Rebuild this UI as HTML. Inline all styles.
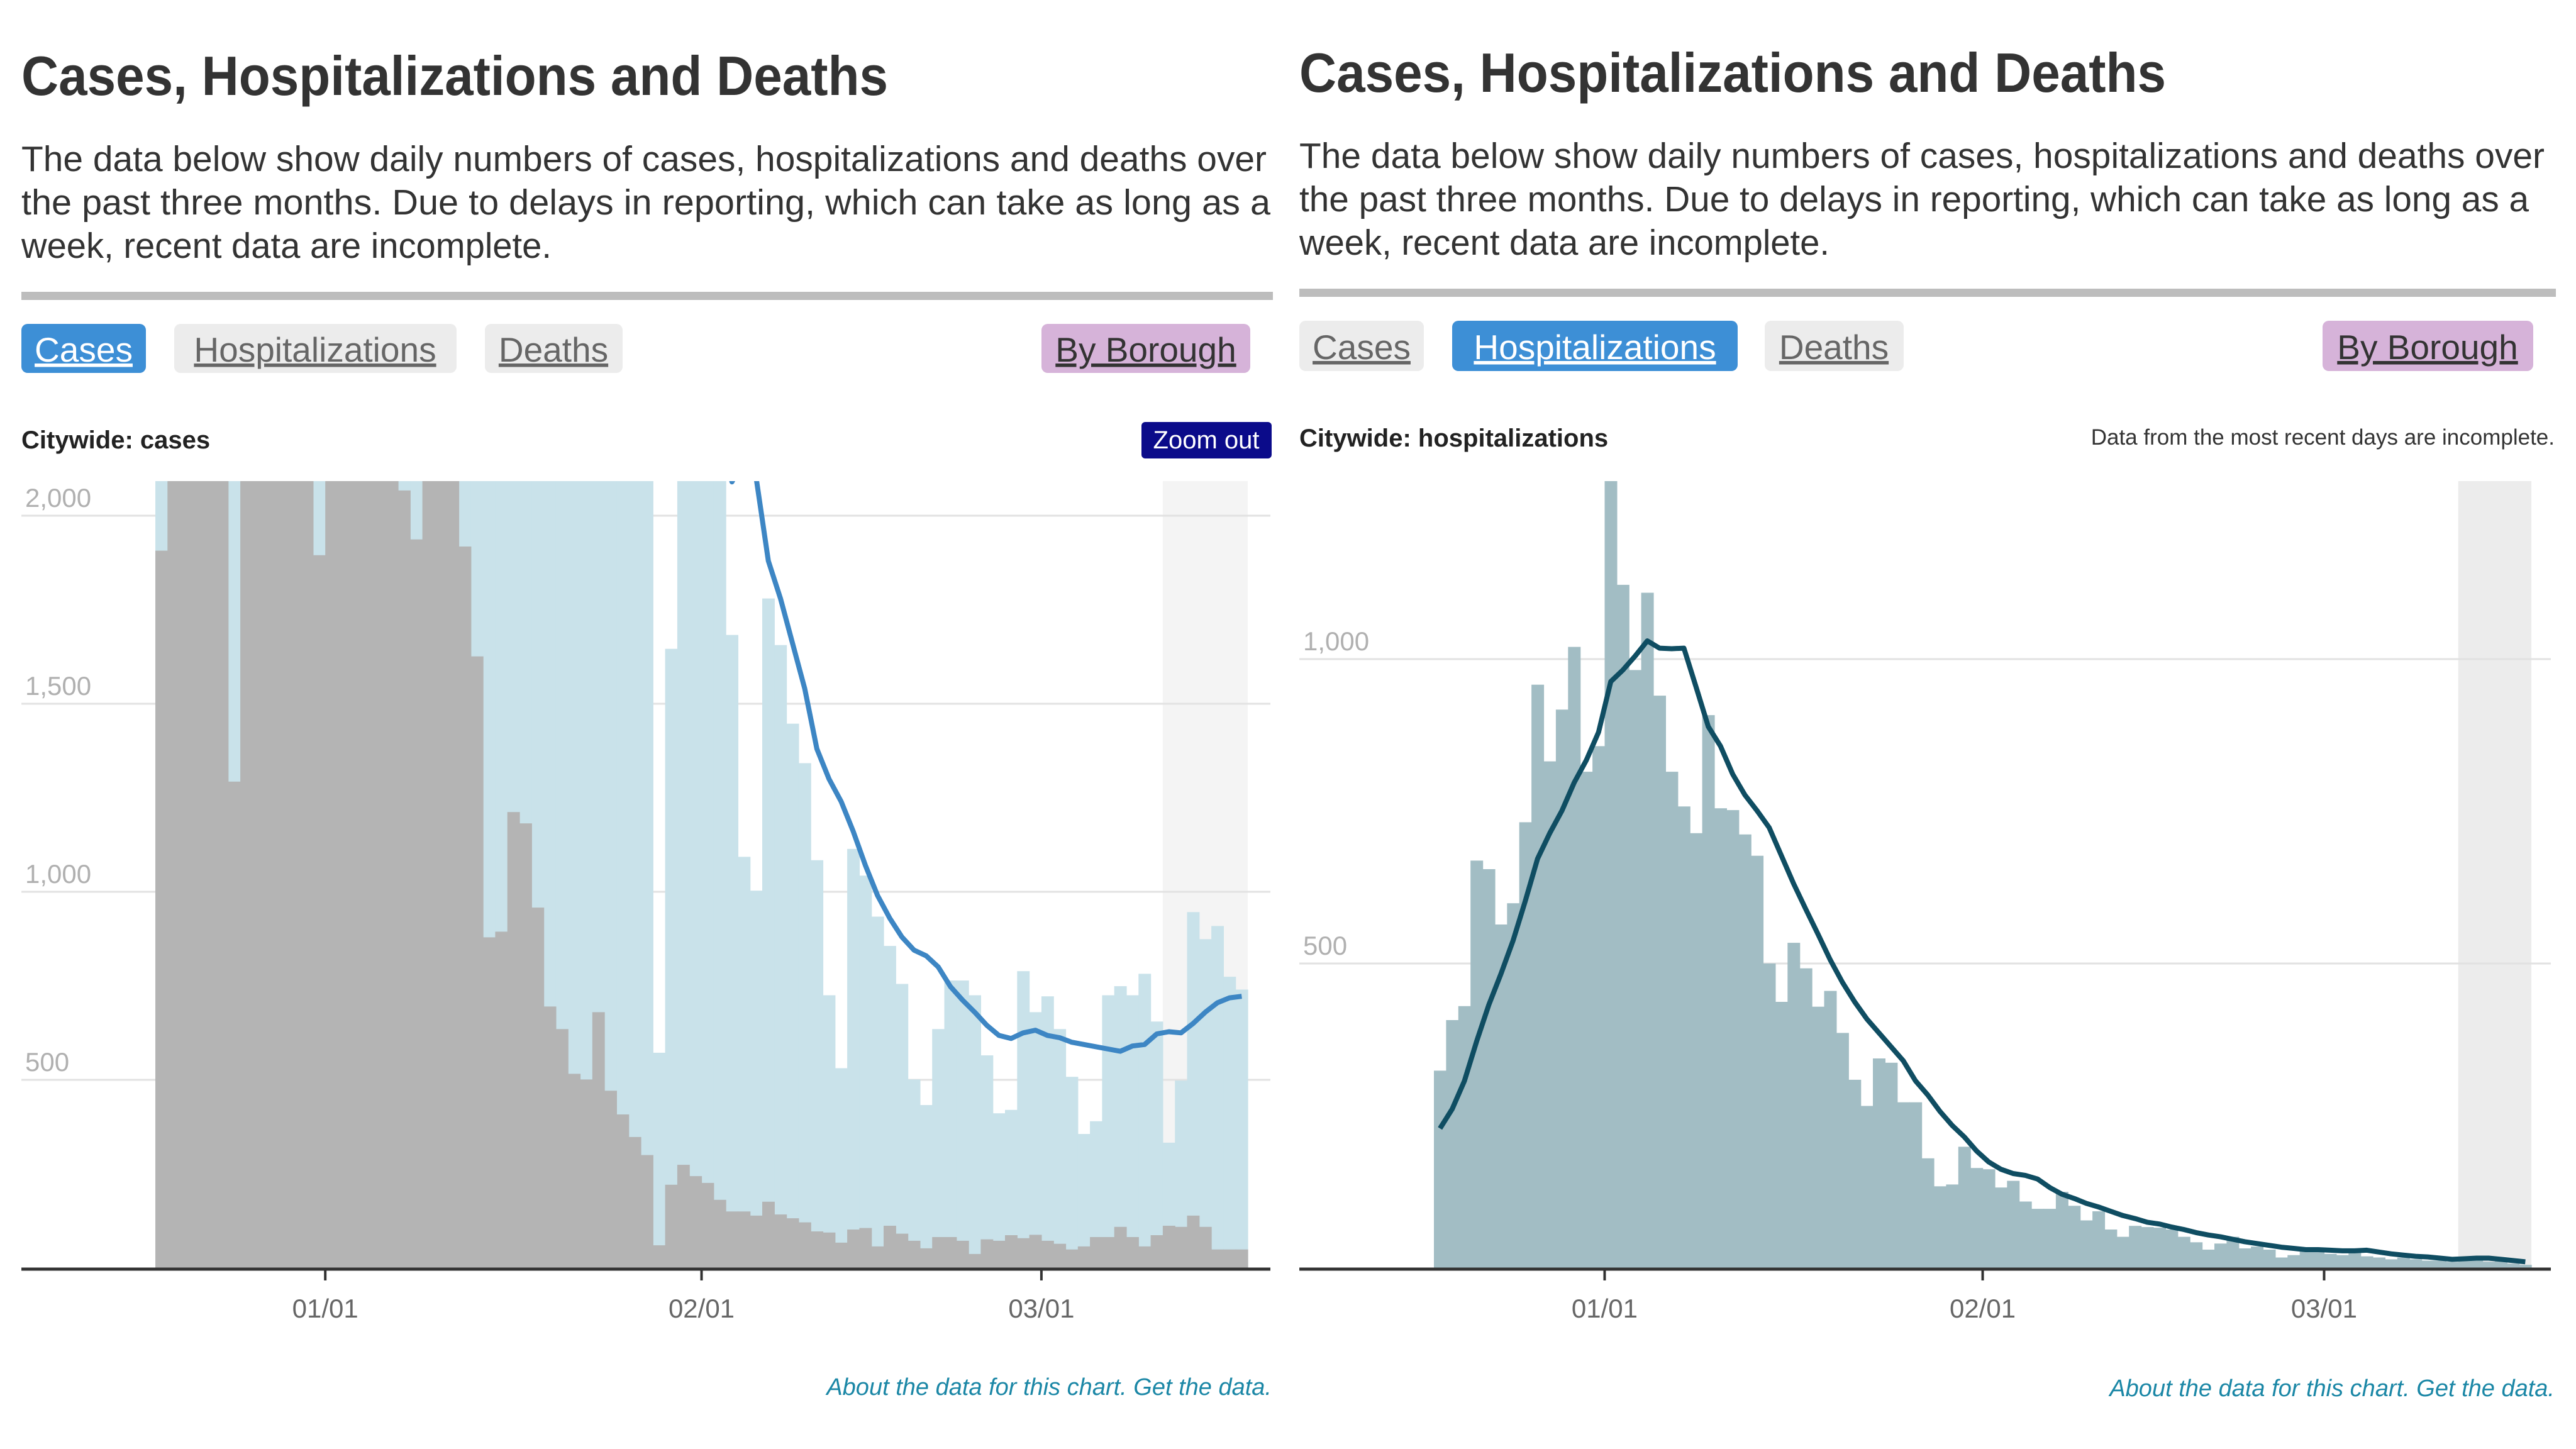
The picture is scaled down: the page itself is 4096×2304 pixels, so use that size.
<!DOCTYPE html>
<html><head><meta charset="utf-8"><style>
html,body{margin:0;padding:0;background:#fff;width:4096px;height:2304px;overflow:hidden}
svg{display:block;font-family:"Liberation Sans",sans-serif}
</style></head><body>
<svg id="page" width="4096" height="2304" viewBox="0 0 4096 2304" xmlns="http://www.w3.org/2000/svg">
<defs>
<clipPath id="clipL"><rect x="30" y="765" width="2000" height="1260"/></clipPath>
<clipPath id="clipR"><rect x="2060" y="765" width="2000" height="1260"/></clipPath>
</defs>
<g>
<text x="34" y="151" font-size="88" font-weight="bold" fill="#333" textLength="1378" lengthAdjust="spacingAndGlyphs">Cases, Hospitalizations and Deaths</text>
<g font-size="57" fill="#333">
<text x="34" y="272" textLength="1980" lengthAdjust="spacingAndGlyphs">The data below show daily numbers of cases, hospitalizations and deaths over</text>
<text x="34" y="341" textLength="1986" lengthAdjust="spacingAndGlyphs">the past three months. Due to delays in reporting, which can take as long as a</text>
<text x="34" y="410" textLength="843" lengthAdjust="spacingAndGlyphs">week, recent data are incomplete.</text>
</g>
<rect x="34" y="464" width="1990" height="13" fill="#bdbdbd"/>
<g><rect x="34" y="515" width="198" height="78" rx="10" fill="#3d8fd6"/><text x="133" y="575" font-size="55" fill="#fff" text-anchor="middle" text-decoration="underline">Cases</text></g>
<g><rect x="277" y="515" width="449" height="78" rx="10" fill="#ececec"/><text x="501" y="575" font-size="55" fill="#666" text-anchor="middle" text-decoration="underline">Hospitalizations</text></g>
<g><rect x="771" y="515" width="219" height="78" rx="10" fill="#ececec"/><text x="880" y="575" font-size="55" fill="#666" text-anchor="middle" text-decoration="underline">Deaths</text></g>
<g><rect x="1656" y="515" width="332" height="78" rx="10" fill="#d6b3d9"/><text x="1822" y="575" font-size="55" fill="#333" text-anchor="middle" text-decoration="underline">By Borough</text></g>
<text x="34" y="713" font-size="40" font-weight="bold" fill="#222">Citywide: cases</text>
<g><rect x="1815" y="671" width="207" height="58" rx="6" fill="#0b0b8a"/><text x="1918" y="713" font-size="40" fill="#fff" text-anchor="middle">Zoom out</text></g>
<g id="chartL"></g>
<text x="2022" y="2218" font-size="38" font-style="italic" fill="#1b87a6" text-anchor="end">About the data for this chart. Get the data.</text>
</g>
<g>
<text x="2066" y="146" font-size="88" font-weight="bold" fill="#333" textLength="1378" lengthAdjust="spacingAndGlyphs">Cases, Hospitalizations and Deaths</text>
<g font-size="57" fill="#333">
<text x="2066" y="267" textLength="1980" lengthAdjust="spacingAndGlyphs">The data below show daily numbers of cases, hospitalizations and deaths over</text>
<text x="2066" y="336" textLength="1955" lengthAdjust="spacingAndGlyphs">the past three months. Due to delays in reporting, which can take as long as a</text>
<text x="2066" y="405" textLength="843" lengthAdjust="spacingAndGlyphs">week, recent data are incomplete.</text>
</g>
<rect x="2066" y="459" width="1998" height="13" fill="#bdbdbd"/>
<g><rect x="2066" y="510" width="198" height="80" rx="10" fill="#ececec"/><text x="2165" y="571" font-size="55" fill="#666" text-anchor="middle" text-decoration="underline">Cases</text></g>
<g><rect x="2309" y="510" width="454" height="80" rx="10" fill="#3d8fd6"/><text x="2536" y="571" font-size="55" fill="#fff" text-anchor="middle" text-decoration="underline">Hospitalizations</text></g>
<g><rect x="2806" y="510" width="221" height="80" rx="10" fill="#ececec"/><text x="2916" y="571" font-size="55" fill="#666" text-anchor="middle" text-decoration="underline">Deaths</text></g>
<g><rect x="3693" y="510" width="335" height="80" rx="10" fill="#d6b3d9"/><text x="3860" y="571" font-size="55" fill="#333" text-anchor="middle" text-decoration="underline">By Borough</text></g>
<text x="2066" y="710" font-size="40" font-weight="bold" fill="#222">Citywide: hospitalizations</text>
<text x="4062" y="707" font-size="35" fill="#333" text-anchor="end">Data from the most recent days are incomplete.</text>
<g id="chartR"></g>
<text x="4062" y="2220" font-size="38" font-style="italic" fill="#1b87a6" text-anchor="end">About the data for this chart. Get the data.</text>
</g>
</svg>
<script>
// ---- data (day index 0 = Dec 18) ----
const casesTotal = [2300,2300,2300,2300,2300,2300,2300,2300,2300,2300,2300,2300,2300,2300,2300,2300,2300,2300,2300,2300,2300,2300,2300,2300,2300,2300,2300,2300,2300,2300,2300,2300,2300,2300,2300,2300,2300,2300,2300,2300,2300,572,1646,2300,2300,2300,2300,1683,1093,1003,1780,1656,1447,1342,1084,725,531,1114,1043,934,856,755,501,433,635,764,764,725,565,411,420,789,680,722,635,508,356,390,725,749,725,782,655,333,498,946,874,909,774,740];
const casesPrior = [1907,2300,2300,2300,2300,2300,1293,2300,2300,2300,2300,2300,2300,1895,2300,2300,2300,2300,2300,2300,2067,1937,2300,2300,2300,1918,1626,879,894,1212,1182,958,695,635,516,501,680,471,408,348,300,60,221,274,244,226,181,150,150,139,176,142,132,121,97,94,67,102,106,57,112,91,72,52,82,82,72,37,76,72,87,79,88,72,64,49,57,82,82,109,82,57,87,112,109,139,109,49,49,49];
const casesAvg = [2500,2500,2500,2500,2500,2500,2500,2500,2500,2500,2500,2500,2500,2500,2500,2500,2500,2500,2500,2500,2500,2500,2500,2500,2500,2500,2500,2500,2500,2500,2500,2500,2500,2500,2500,2500,2500,2500,2500,2500,2500,2500,2500,2500,2500,2500,2300,2090,2150,2100,1880,1780,1660,1540,1380,1300,1240,1160,1070,990,930,880,845,830,800,748,712,680,645,618,610,625,632,618,612,600,594,588,582,576,590,594,622,628,625,650,680,705,718,722];
const hospValues = [324,407,430,669,655,564,599,732,958,832,917,1020,815,857,1294,1122,982,1109,940,815,758,714,908,755,752,712,677,500,437,534,492,429,455,386,309,266,344,337,272,272,180,134,137,199,164,162,132,143,109,97,97,125,102,78,93,63,51,69,67,66,63,51,42,30,40,51,32,35,30,17,21,30,26,23,21,26,19,17,14,17,14,12,12,10,12,14,10,12,7,5];
const hospAvg = [229,261,307,372,432,483,538,603,672,714,751,797,834,880,963,982,1005,1030,1018,1017,1018,954,889,857,811,777,751,723,677,631,589,548,506,469,437,409,386,363,340,307,284,257,234,215,192,174,162,155,152,146,132,121,114,106,100,93,86,81,75,72,67,63,58,54,51,47,43,40,37,34,32,30,30,29,28,28,29,26,23,21,19,18,16,14,15,16,16,14,12,10];
const casesTicks = [2000,1500,1000,500];
const hospTicks = [1000,500];
const dateTicks = ["01/01","02/01","03/01"];
const dateTickOffsets = [14,45,73];
const incompleteStartCases = 83;
const incompleteStartHosp = 84;

const NS = "http://www.w3.org/2000/svg";
function mk(tag, attrs, parent){ const e=document.createElementNS(NS,tag); for(const k in attrs) e.setAttribute(k,attrs[k]); parent.appendChild(e); return e; }
function pathFrom(vals, x, y){ let d=""; vals.forEach((v,i)=>{ d += (i?"L":"M")+x(i).toFixed(1)+","+y(v).toFixed(1); }); return d; }

function drawChart(g, o){
  const y0 = o.y(0);
  const sh = mk("rect",{x:o.xl(o.inc),y:765,width:o.xl(o.n)-o.xl(o.inc),height:y0-765,fill:o.shade},g);
  
  
  o.ticks.forEach(t=>{
    const gl = mk("line",{x1:o.x0,x2:o.x1,y1:o.y(t),y2:o.y(t),stroke:"#e2e2e2","stroke-width":3},g);
    
    
  });
  const bars = mk("g",{"clip-path":o.clip},g);
  
  
  o.series.forEach(s=>{
    s.vals.forEach((v,i)=>{
      const r = mk("rect",{x:o.xl(i).toFixed(1),y:o.y(v).toFixed(1),width:(o.xl(i+1)-o.xl(i)+0.6).toFixed(1),height:(y0-o.y(v)).toFixed(1),fill:s.color},bars);
      
      
    });
  });
  const ln = mk("path",{d:pathFrom(o.avg,i=>o.xl(i)+o.dw/2,o.y),fill:"none",stroke:o.lineColor,"stroke-width":8,"stroke-linejoin":"round","clip-path":o.clip},g);
  
  
  o.ticks.forEach(t=>{
    const tx = mk("text",{x:o.x0+6,y:o.y(t)-14,"font-size":42,fill:"#b0b0b0"},g);
    tx.textContent = t.toLocaleString("en-US");
    
    
  });
  const ax = mk("line",{x1:o.x0,x2:o.x1,y1:y0+2,y2:y0+2,stroke:"#333","stroke-width":5},g);
  
  
  dateTicks.forEach((lab,k)=>{
    const xx = o.xl(dateTickOffsets[k]);
    const tk = mk("line",{x1:xx,x2:xx,y1:y0+2,y2:y0+20,stroke:"#333","stroke-width":4},g);
    
    
    const tl = mk("text",{x:xx,y:y0+79,"font-size":42,fill:"#666","text-anchor":"middle"},g);
    tl.textContent = lab;
    
    
  });
}

const dwL = 19.3, dwR = 19.39;
drawChart(document.getElementById("chartL"),{
  n:casesTotal.length, dw:dwL, x0:34, x1:2020, clip:"url(#clipL)", shade:"#f4f4f4", inc:incompleteStartCases,
  xl:i=>247+i*dwL, y:v=>2016-v*0.598, ticks:casesTicks, lineColor:"#3d86c4",
  series:[{name:'cases-total',vals:casesTotal,color:"#c9e2ea"},{name:'cases-prior',vals:casesPrior,color:"#b4b4b4"}],
  avg:casesAvg
});
drawChart(document.getElementById("chartR"),{
  n:hospValues.length, dw:dwR, x0:2066, x1:4056, clip:"url(#clipR)", shade:"#ececec", inc:incompleteStartHosp,
  xl:i=>2280+i*dwR, y:v=>2016-v*0.968, ticks:hospTicks, lineColor:"#0f4d62",
  series:[{name:'hospitalizations',vals:hospValues,color:"#a2bdc4"}],
  avg:hospAvg
});
</script>
</body></html>
